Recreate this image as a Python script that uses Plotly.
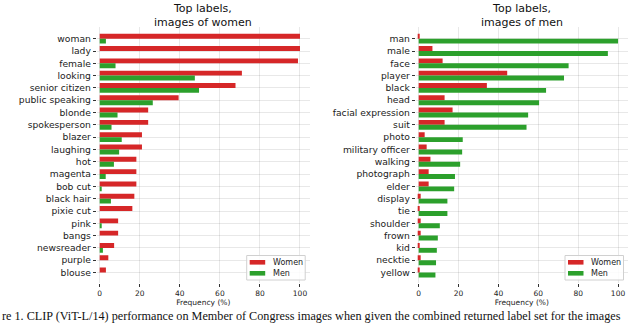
import plotly.graph_objects as go
from plotly.subplots import make_subplots

RED = "#d62728"
GREEN = "#2ca02c"
GRID = "rgba(0,0,0,0.09)"
FONT = "DejaVu Sans"

women_labels = [
    "woman", "lady", "female", "looking", "senior citizen", "public speaking",
    "blonde", "spokesperson", "blazer", "laughing", "hot", "magenta", "bob cut",
    "black hair", "pixie cut", "pink", "bangs", "newsreader", "purple", "blouse",
]
women_women = [100, 100, 99, 71, 67.8, 39.4, 24.2, 24.2, 21.1, 21.1, 18.3, 18.3,
               18.3, 17.3, 16.3, 9.2, 9.2, 7.2, 4.3, 3.1]
women_men = [3.1, 0, 7.9, 47.5, 49.6, 26.5, 8.9, 5.9, 11, 9.7, 7.1, 3.0,
             0.5, 5.6, 0, 0.9, 0, 1.6, 0, 0]

men_labels = [
    "man", "male", "face", "player", "black", "head", "facial expression", "suit",
    "photo", "military officer", "walking", "photograph", "elder", "display",
    "tie", "shoulder", "frown", "kid", "necktie", "yellow",
]
men_women = [0.3, 6.9, 12.0, 44.4, 34.2, 13.0, 17.0, 13.0, 3.0, 4.0, 5.9, 5.0,
             5.0, 1.0, 0.3, 1.0, 1.0, 0.2, 1.0, 0.2]
men_men = [100, 94.9, 75.2, 72.9, 63.9, 60.4, 54.9, 54.1, 22.1, 21.8, 20.8, 18.2,
           17.8, 14.4, 14.4, 10.6, 9.6, 9.1, 8.7, 8.4]

x_ticks = [0, 20, 40, 60, 80, 100]
series_names = ["Women", "Men"]

W, H = 640, 325


def px_x(p):
    return p / W


def px_y(p):
    return 1 - p / H


fig = make_subplots(rows=1, cols=2)

panels = [
    (1, women_labels, women_women, women_men),
    (2, men_labels, men_women, men_men),
]
for col, labels, w_vals, m_vals in panels:
    fig.add_trace(
        go.Bar(y=labels, x=w_vals, orientation="h", name=series_names[0],
               marker=dict(color=RED, line=dict(width=0)), showlegend=False),
        row=1, col=col,
    )
    fig.add_trace(
        go.Bar(y=labels, x=m_vals, orientation="h", name=series_names[1],
               marker=dict(color=GREEN, line=dict(width=0)), showlegend=False),
        row=1, col=col,
    )

fig.update_layout(
    width=W,
    height=H,
    margin=dict(l=0, r=0, t=0, b=0),
    plot_bgcolor="white",
    paper_bgcolor="white",
    font=dict(family=FONT, color="#222"),
    barmode="group",
    bargap=0.2,
    bargroupgap=0,
)

domains = {1: [px_x(96.7), px_x(310)], 2: [px_x(415.7), px_x(628)]}
for col in (1, 2):
    fig.update_xaxes(
        row=1, col=col,
        domain=domains[col],
        range=[-1.5, 105],
        tickvals=x_ticks,
        ticks="outside", ticklen=3, tickcolor="#333",
        tickfont=dict(family=FONT, size=7.5, color="#222"),
        showgrid=True, gridcolor=GRID, zeroline=False, showline=False,
        title=dict(text="Frequency (%)", font=dict(family=FONT, size=7.5, color="#222"), standoff=2),
    )
    fig.update_yaxes(
        row=1, col=col,
        domain=[px_y(283), px_y(27)],
        range=[19.85, -0.95],
        ticks="outside", ticklen=3, tickcolor="#333",
        tickfont=dict(family=FONT, size=9.2, color="#222"),
        showgrid=True, gridcolor=GRID, zeroline=False, showline=False,
    )

titles = [("Top labels,<br>images of women", 203), ("Top labels,<br>images of men", 521.7)]
for text, xc in titles:
    fig.add_annotation(
        text=text, x=px_x(xc), y=1, xref="paper", yref="paper",
        xanchor="center", yanchor="top", showarrow=False,
        font=dict(family=FONT, size=11, color="#111"),
    )

# matplotlib-style legend boxes, lower right of each panel
for x0 in (246.7, 565.0):
    fig.add_shape(
        type="rect", xref="paper", yref="paper",
        x0=px_x(x0), x1=px_x(x0 + 58.5), y0=px_y(280), y1=px_y(255.5),
        line=dict(color="#d0d0d0", width=1), fillcolor="rgba(255,255,255,0.85)",
    )
    for i, (name, color) in enumerate(zip(series_names, [RED, GREEN])):
        yc = 262.3 + i * 11
        fig.add_shape(
            type="rect", xref="paper", yref="paper",
            x0=px_x(x0 + 3), x1=px_x(x0 + 18.5), y0=px_y(yc + 2.3), y1=px_y(yc - 2.3),
            line=dict(width=0), fillcolor=color,
        )
        fig.add_annotation(
            text=name, x=px_x(x0 + 24), y=px_y(yc), xref="paper", yref="paper",
            xanchor="left", yanchor="middle", showarrow=False,
            font=dict(family=FONT, size=8, color="#222"),
        )

fig.add_annotation(
    text="re 1. CLIP (ViT-L/14) performance on Member of Congress images when given the "
         "combined returned label set for the images",
    x=0, y=0, xref="paper", yref="paper",
    xanchor="left", yanchor="bottom", showarrow=False,
    font=dict(family="Liberation Serif", size=12.2, color="#111"),
)

fig.write_html(
    "out.html",
    config={"displayModeBar": False},
    post_script="document.body.style.margin = '0';",
)
